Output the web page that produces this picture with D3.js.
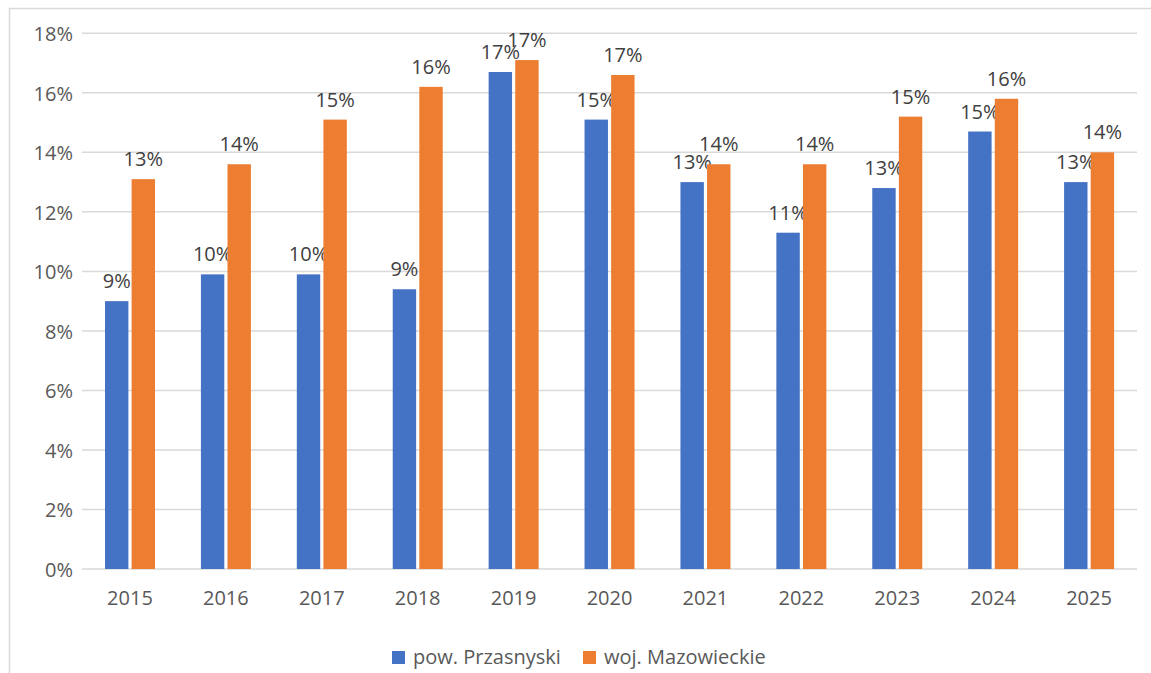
<!DOCTYPE html>
<html>
<head>
<meta charset="utf-8">
<script src="https://cdn.jsdelivr.net/npm/d3@7"></script>
<style>
  body { margin: 0; background: #fff; }
  svg { display: block; }
</style>
</head>
<body>
<div id="chart"></div>
<script>
// ======= chart data
var years = ["2015", "2016", "2017", "2018", "2019", "2020", "2021", "2022", "2023", "2024", "2025"];
var przasnyski = [0.090, 0.099, 0.099, 0.094, 0.167, 0.151, 0.130, 0.113, 0.128, 0.147, 0.130];
var mazowieckie = [0.131, 0.136, 0.151, 0.162, 0.171, 0.166, 0.136, 0.136, 0.152, 0.158, 0.140];
var seriesNames = ["pow. Przasnyski", "woj. Mazowieckie"];
var seriesColors = ["#4472c4", "#ed7d31"];
var yTicks = [0, 0.02, 0.04, 0.06, 0.08, 0.10, 0.12, 0.14, 0.16, 0.18];

var W = 1151, H = 673;
var plotLeft = 82, plotRight = 1137, plotTop = 33.3, plotBottom = 569;
var fontFam = "'Open Sans', 'Liberation Sans', sans-serif";

var svg = d3.select("#chart")
  .append("svg")
  .attr("width", W)
  .attr("height", H);

// ======= outer frame (extends past right/bottom edge)
svg.append("rect")
  .attr("x", 9.5).attr("y", 8.5)
  .attr("width", 1160).attr("height", 700)
  .attr("fill", "none")
  .attr("stroke", "#d9d9d9")
  .attr("stroke-width", 1.5);

var y = d3.scaleLinear().domain([0, 0.18]).range([plotBottom, plotTop]);
var x = d3.scaleBand().domain(years).range([plotLeft, plotRight]).paddingInner(0).paddingOuter(0);
var x1 = d3.scaleBand().domain([0, 1]).range([23, 73]).paddingInner(6 / 50);

// ======= gridlines
svg.append("g").selectAll("line")
  .data(yTicks)
  .enter()
  .append("line")
  .attr("x1", plotLeft).attr("x2", plotRight)
  .attr("y1", function (d) { return y(d); })
  .attr("y2", function (d) { return y(d); })
  .attr("stroke", "#d9d9d9")
  .attr("stroke-width", 1.5);

// ======= y axis labels
var yAxis = d3.axisLeft(y).tickValues(yTicks).tickFormat(d3.format(".0%")).tickSize(0).tickPadding(9);
var gy = svg.append("g").attr("transform", "translate(" + plotLeft + ",0)").call(yAxis);
gy.select(".domain").remove();
gy.selectAll("text")
  .attr("fill", "#595959")
  .attr("font-family", fontFam)
  .attr("font-size", "20px")
  .attr("dy", "0.36em");

// ======= x axis labels
var xAxis = d3.axisBottom(x).tickSize(0).tickPadding(22);
var gx = svg.append("g").attr("transform", "translate(0," + plotBottom + ")").call(xAxis);
gx.select(".domain").remove();
gx.selectAll("text")
  .attr("fill", "#595959")
  .attr("font-family", fontFam)
  .attr("font-size", "20px");

// ======= bars + labels
var series = [przasnyski, mazowieckie];
var fmt = d3.format(".0%");
series.forEach(function (vals, s) {
  svg.append("g").selectAll("rect")
    .data(vals)
    .enter()
    .append("rect")
    .attr("x", function (d, j) { return x(years[j]) + x1(s); })
    .attr("y", function (d) { return y(d); })
    .attr("width", x1.bandwidth())
    .attr("height", function (d) { return plotBottom - y(d); })
    .attr("fill", seriesColors[s]);

  svg.append("g").selectAll("text")
    .data(vals)
    .enter()
    .append("text")
    .text(function (d) { return fmt(d); })
    .attr("x", function (d, j) { return x(years[j]) + x1(s) + x1.bandwidth() / 2; })
    .attr("y", function (d) { return y(d) - 13; })
    .attr("text-anchor", "middle")
    .attr("fill", "#404040")
    .attr("font-family", fontFam)
    .attr("font-size", "20px");
});

// ======= legend
var legendX = [392, 583];
var legend = svg.append("g").selectAll("g")
  .data(seriesNames)
  .enter()
  .append("g")
  .attr("transform", function (d, j) { return "translate(" + legendX[j] + ",651)"; });
legend.append("rect")
  .attr("width", 13).attr("height", 13)
  .attr("fill", function (d, j) { return seriesColors[j]; });
legend.append("text")
  .text(function (d) { return d; })
  .attr("x", 21).attr("y", 13)
  .attr("fill", "#595959")
  .attr("font-family", fontFam)
  .attr("font-size", "20px");
</script>
</body>
</html>
